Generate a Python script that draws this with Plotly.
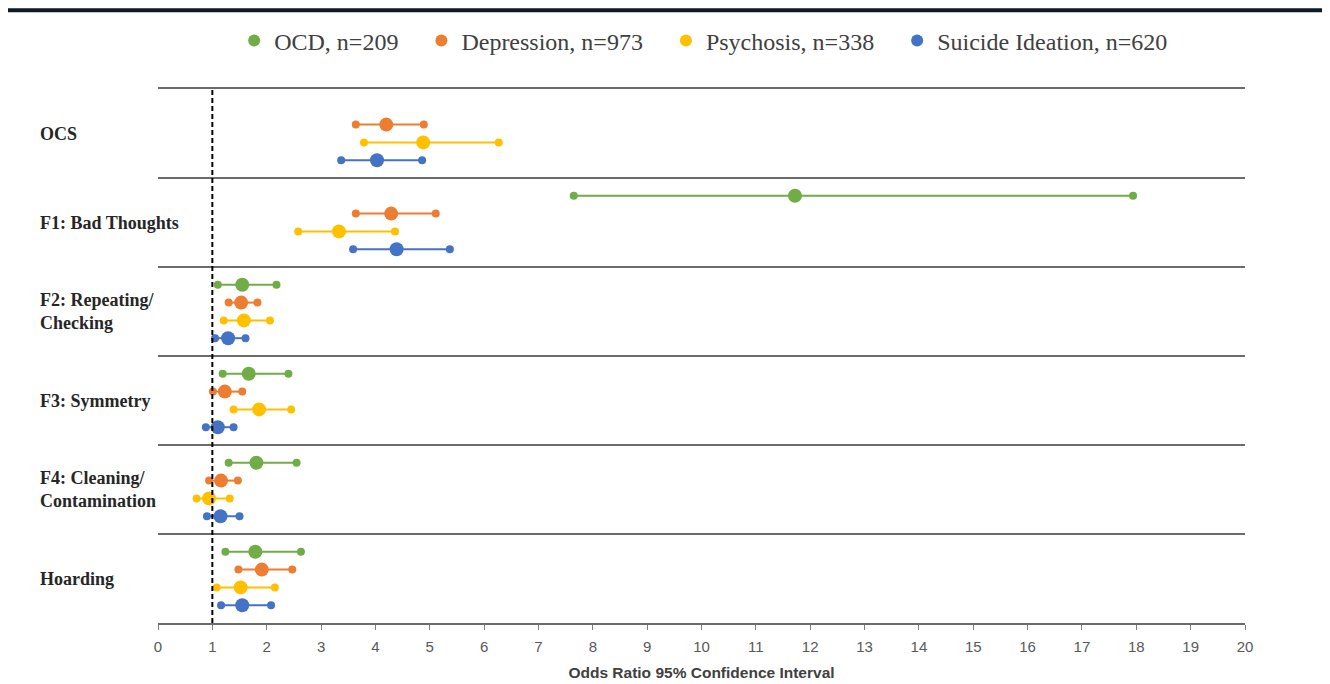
import plotly.graph_objects as go

# ---- data ----
categories = ["OCS", "F1: Bad Thoughts", "F2: Repeating/<br>Checking", "F3: Symmetry",
              "F4: Cleaning/<br>Contamination", "Hoarding"]

series_names = ["OCD, n=209", "Depression, n=973", "Psychosis, n=338", "Suicide Ideation, n=620"]
series_colors = ["#70AD47", "#ED7D31", "#FFC000", "#4472C4"]

ocd_or = [None, 11.72, 1.55, 1.67, 1.81, 1.79]
ocd_lo = [None, 7.65, 1.10, 1.19, 1.30, 1.24]
ocd_hi = [None, 17.94, 2.18, 2.40, 2.55, 2.63]

dep_or = [4.20, 4.29, 1.53, 1.23, 1.16, 1.91]
dep_lo = [3.64, 3.64, 1.30, 1.01, 0.94, 1.48]
dep_hi = [4.89, 5.11, 1.83, 1.55, 1.47, 2.47]

psy_or = [4.88, 3.33, 1.58, 1.86, 0.94, 1.52]
psy_lo = [3.79, 2.58, 1.21, 1.39, 0.71, 1.08]
psy_hi = [6.27, 4.36, 2.06, 2.45, 1.32, 2.15]

sui_or = [4.03, 4.39, 1.29, 1.10, 1.15, 1.55]
sui_lo = [3.37, 3.59, 1.05, 0.88, 0.90, 1.16]
sui_hi = [4.86, 5.37, 1.61, 1.39, 1.50, 2.08]

x_ticks = list(range(0, 21))
REF_OR = 1

series = [
    (ocd_or, ocd_lo, ocd_hi),
    (dep_or, dep_lo, dep_hi),
    (psy_or, psy_lo, psy_hi),
    (sui_or, sui_lo, sui_hi),
]

fig = go.Figure()
n_cat = len(categories)
n_ser = len(series)

for s, (mid, lo, hi) in enumerate(series):
    xs, ys, sizes = [], [], []
    for i in range(n_cat):
        if mid[i] is None:
            continue
        yv = i + (s + 1) / (n_ser + 1)
        xs += [lo[i], mid[i], hi[i], None]
        ys += [yv, yv, yv, None]
        sizes += [8, 14, 8, 0]
    fig.add_trace(go.Scatter(
        x=xs, y=ys, mode="lines+markers", showlegend=False,
        line=dict(color=series_colors[s], width=2),
        marker=dict(color=series_colors[s], size=sizes, opacity=1, line=dict(width=0)),
        hoverinfo="skip",
    ))

PAD = "\u00a0" * 3
for s in range(n_ser):
    fig.add_trace(go.Scatter(
        x=[None], y=[None], mode="markers",
        name=series_names[s] + (PAD if s < n_ser - 1 else ""),
        marker=dict(color=series_colors[s], size=8),
    ))

# category labels
for i, c in enumerate(categories):
    fig.add_annotation(
        x=-0.1104, xref="paper", y=i + 0.5, yref="y", text="<b>" + c + "</b>",
        showarrow=False, xanchor="left", yanchor="middle", align="left",
        font=dict(family="Liberation Serif", size=18, color="#262626"),
    )

# reference line at OR = 1
fig.add_shape(type="line", xref="x", yref="paper", x0=REF_OR, x1=REF_OR, y0=0, y1=1,
              line=dict(color="black", width=2, dash="5px,3px"), layer="above")

# top decorative rule
fig.add_shape(type="line", xref="paper", yref="paper", x0=-0.1408, x1=1.078,
              y0=1.1475, y1=1.1475, line=dict(color="#0f1a24", width=4))

fig.update_layout(
    width=1322, height=678,
    margin=dict(l=150, r=85, t=80, b=63),
    paper_bgcolor="white", plot_bgcolor="white",
    legend=dict(orientation="h", x=0.502, xanchor="center", y=1.088, yanchor="middle",
                font=dict(family="Liberation Serif", size=24, color="#404040"),
                itemsizing="constant"),
    xaxis=dict(range=[0, 20], tickvals=x_ticks, ticks="outside", ticklen=5,
               tickcolor="#7f7f7f", showline=True, linecolor="#6b6b6b", linewidth=2,
               mirror=True, showgrid=False, zeroline=False, automargin=False,
               ticklabelstandoff=4,
               tickfont=dict(family="Liberation Sans", size=15, color="#595959"),
               title=dict(text="<b>Odds Ratio 95% Confidence Interval</b>",
                          font=dict(family="Liberation Sans", size=15.5, color="#404040"),
                          standoff=13)),
    yaxis=dict(range=[n_cat, 0], tickvals=list(range(n_cat + 1)), showticklabels=False,
               showgrid=True, gridcolor="#6b6b6b", gridwidth=2, zeroline=False,
               showline=False, ticks="", automargin=False),
)

fig.write_html("out.html")
